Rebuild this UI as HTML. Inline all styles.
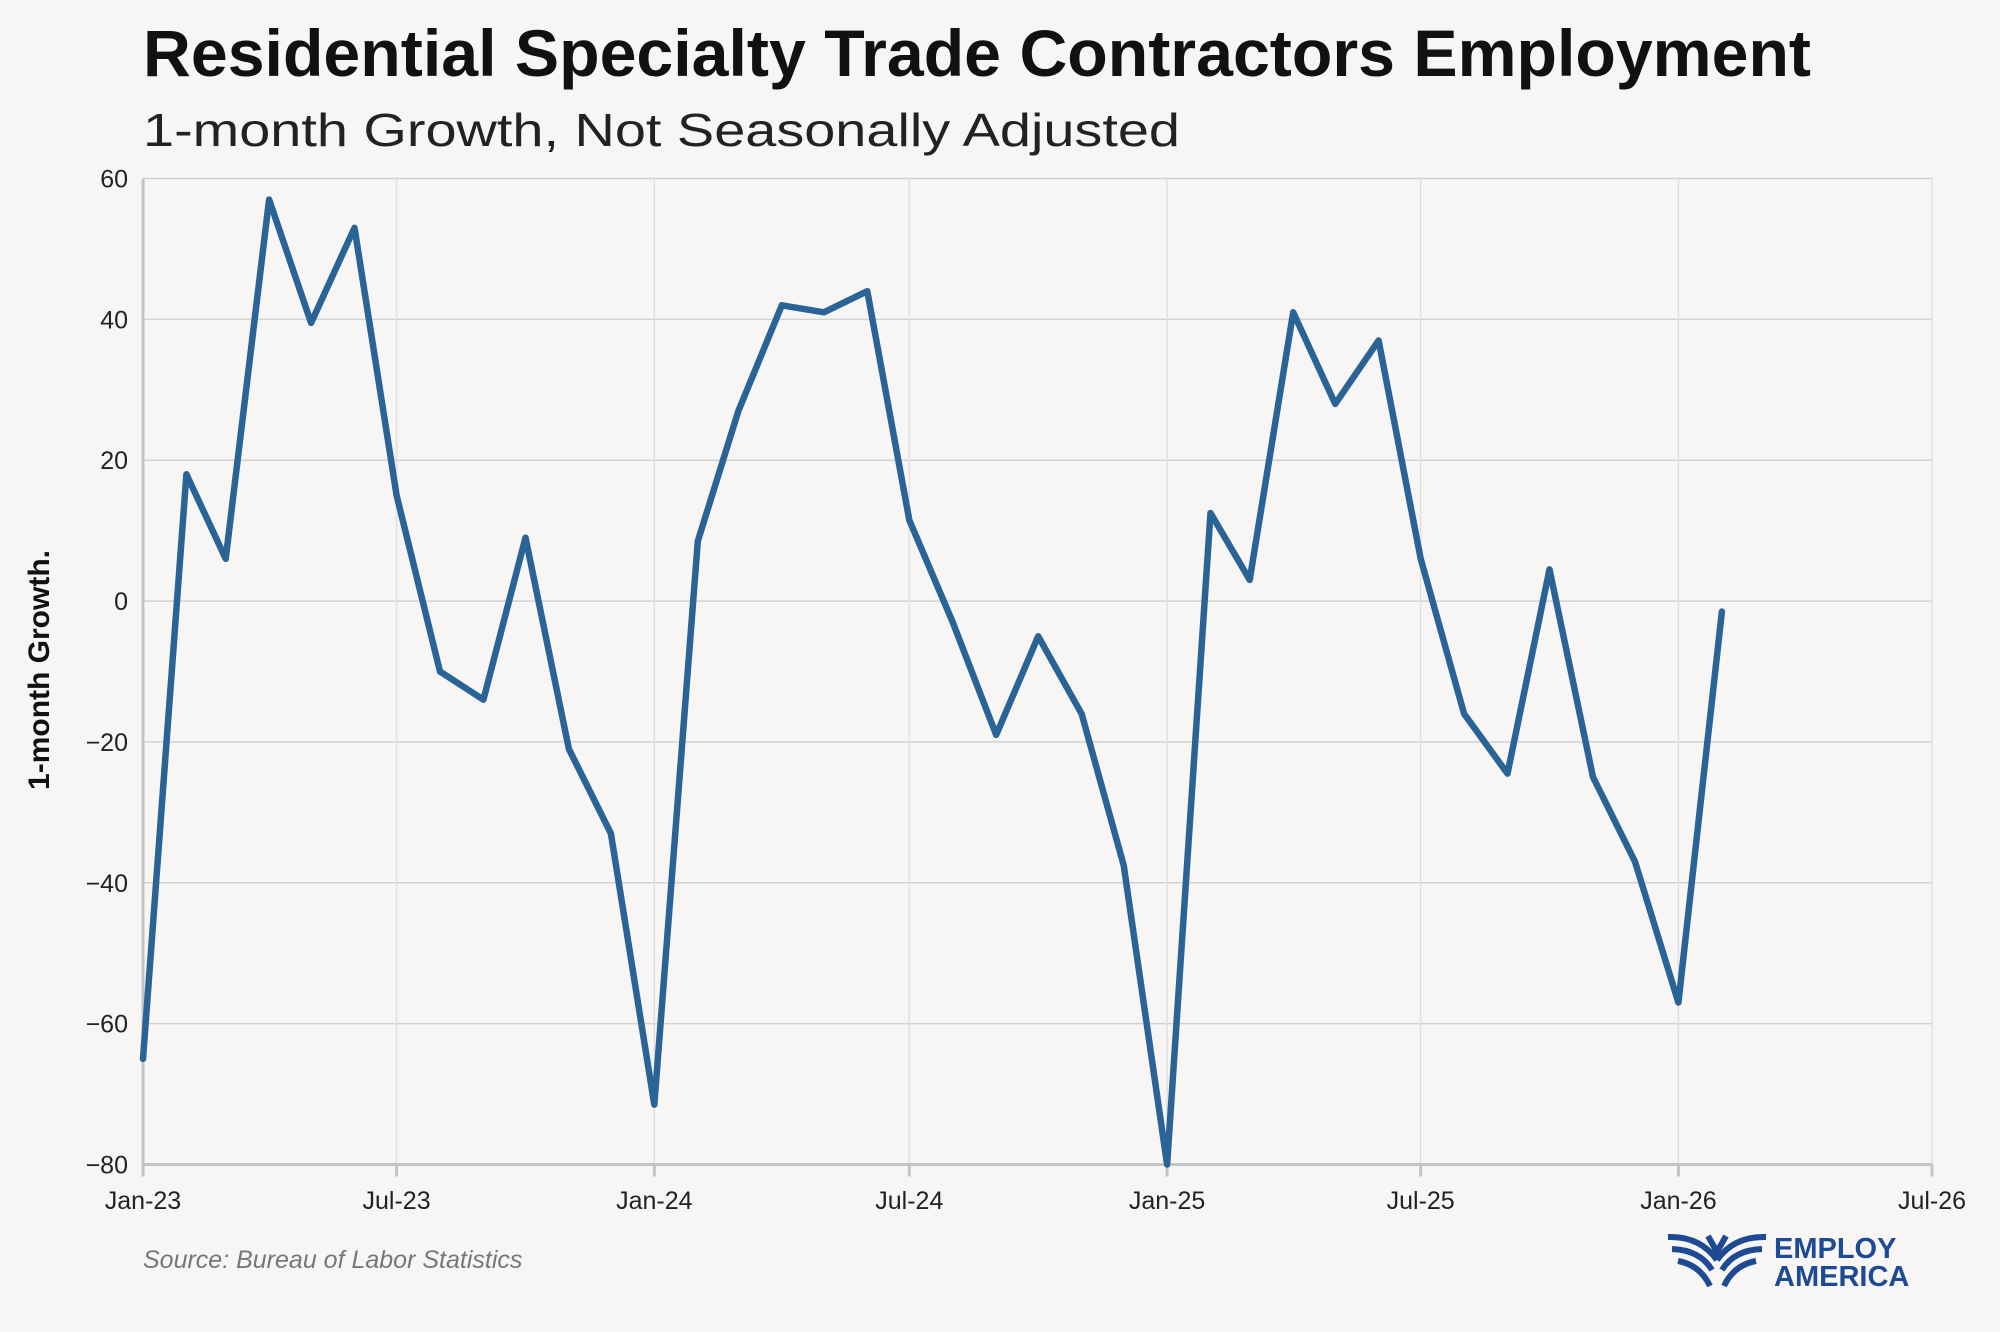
<!DOCTYPE html>
<html><head><meta charset="utf-8"><style>
html,body{margin:0;padding:0;background:#f7f6f4;}
svg{display:block;font-family:"Liberation Sans",sans-serif;}
</style></head><body>
<svg id="chart" width="2000" height="1332" viewBox="0 0 2000 1332" xmlns="http://www.w3.org/2000/svg">
<rect width="2000" height="1332" fill="#f7f6f4"/>
<text x="143" y="76" font-size="66" font-weight="bold" fill="#111" textLength="1668" lengthAdjust="spacingAndGlyphs">Residential Specialty Trade Contractors Employment</text>
<text x="143" y="146" font-size="46" fill="#222" textLength="1037" lengthAdjust="spacingAndGlyphs">1-month Growth, Not Seasonally Adjusted</text>
<g id="grid"></g>
<g id="axes"></g>
<g id="series"></g>
<text transform="translate(49,670) rotate(-90)" text-anchor="middle" font-size="30" font-weight="bold" fill="#111">1-month Growth.</text>
<text x="143" y="1268" font-size="25" font-style="italic" fill="#777">Source: Bureau of Labor Statistics</text>
<g>
<g fill="none" stroke="#1e4a94" stroke-width="6">
<path d="M1668 1237 Q1700 1236 1717 1260"/>
<path d="M1672 1249 Q1700 1250 1712 1270"/>
<path d="M1678 1261 Q1700 1265 1710 1286"/>
<path d="M1766 1237 Q1734 1236 1717 1260"/>
<path d="M1762 1249 Q1734 1250 1722 1270"/>
<path d="M1756 1261 Q1734 1265 1724 1286"/>
<path d="M1708 1236 L1717 1252 L1726 1236"/>
</g>
<text x="1774" y="1258" font-size="29" font-weight="bold" fill="#1e4a94">EMPLOY</text>
<text x="1774" y="1286" font-size="29" font-weight="bold" fill="#1e4a94">AMERICA</text>
</g>
</svg>
<script>
const months = ["2023-01","2023-02","2023-03","2023-04","2023-05","2023-06","2023-07","2023-08","2023-09","2023-10","2023-11","2023-12","2024-01","2024-02","2024-03","2024-04","2024-05","2024-06","2024-07","2024-08","2024-09","2024-10","2024-11","2024-12","2025-01","2025-02","2025-03","2025-04","2025-05","2025-06","2025-07","2025-08","2025-09","2025-10","2025-11","2025-12","2026-01","2026-02"];
const growth = [-65,18,6,57,39.5,53,15,-10,-14,9,-21,-33,-71.5,8.5,27,42,41,44,11.5,-3,-19,-5,-16,-37.5,-80,12.5,3,41,28,37,6,-16,-24.5,4.5,-25,-37,-57,-1.5];
const xTickDates = ["2023-01","2023-07","2024-01","2024-07","2025-01","2025-07","2026-01","2026-07"];
const xTickLabels = ["Jan-23","Jul-23","Jan-24","Jul-24","Jan-25","Jul-25","Jan-26","Jul-26"];
const yTicks = [-80,-60,-40,-20,0,20,40,60];
const yTickLabels = ["\u221280","\u221260","\u221240","\u221220","0","20","40","60"];

const NS="http://www.w3.org/2000/svg";
const X0=143,X1=1932,Y0=1164.5,Y1=178.5;
const t0=Date.UTC(2023,0,1), t1=Date.UTC(2026,6,1);
function ms(s){const p=s.split("-");return Date.UTC(+p[0],+p[1]-1,1);}
function xs(s){return X0+(ms(s)-t0)/(t1-t0)*(X1-X0);}
function ys(v){return Y0+(v+80)/140*(Y1-Y0);}
function mk(tag,attrs,parent){const e=document.createElementNS(NS,tag);for(const k in attrs)e.setAttribute(k,attrs[k]);parent.appendChild(e);return e;}
const grid=document.getElementById("grid"),axes=document.getElementById("axes"),series=document.getElementById("series");
yTicks.forEach((v,i)=>{
  const l=mk("line",{x1:X0,x2:X1,y1:ys(v),y2:ys(v),stroke:"#d2d2d2","stroke-width":1.5},grid);
  
  
  const t=mk("text",{x:128,y:ys(v)+9,"text-anchor":"end","font-size":25,fill:"#222"},axes);
  t.textContent=yTickLabels[i];
  
  
});
xTickDates.forEach((d,i)=>{
  const x=xs(d);
  const l=mk("line",{x1:x,x2:x,y1:Y1,y2:Y0,stroke:"#e0e0e0","stroke-width":1.5},grid);
  
  
  const tk=mk("line",{x1:x,x2:x,y1:Y0,y2:Y0+12,stroke:"#c4c4c4","stroke-width":3},axes);
  
  
  const t=mk("text",{x:x,y:1209,"text-anchor":"middle","font-size":25,fill:"#222"},axes);
  t.textContent=xTickLabels[i];
  
  
});
const la=mk("line",{x1:X0,x2:X0,y1:Y1,y2:Y0,stroke:"#c4c4c4","stroke-width":3},axes);


const ba=mk("line",{x1:X0,x2:X1,y1:Y0,y2:Y0,stroke:"#c4c4c4","stroke-width":3},axes);


const pts=months.map((m,i)=>xs(m).toFixed(1)+","+ys(growth[i]).toFixed(1)).join(" ");
const pl=mk("polyline",{points:pts,fill:"none",stroke:"#2a6496","stroke-width":6.5,"stroke-linejoin":"round","stroke-linecap":"round"},series);


</script>
</body></html>
